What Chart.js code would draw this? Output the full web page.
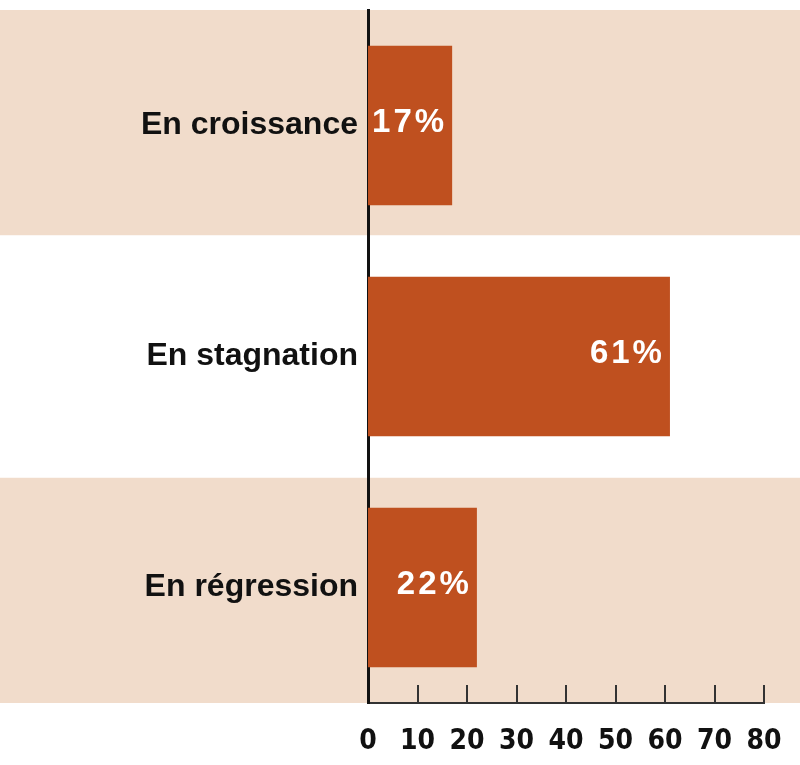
<!DOCTYPE html>
<html>
<head>
<meta charset="utf-8">
<script src="https://cdn.jsdelivr.net/npm/chart.js@4"></script>
<style>
  html, body { margin: 0; padding: 0; background: #fff; }
  #wrap { width: 800px; height: 765px; }
</style>
</head>
<body>
<div id="wrap"><canvas id="barchart"></canvas></div>
<script>
const categories = ['En croissance', 'En stagnation', 'En régression'];
const values = [17, 61, 22];
const valueLabels = ['17%', '61%', '22%'];
const tickStep = 10;
const axisMax = 80;

const bandColor = '#f1dccb';
const barColor = '#bf501f';

// beige bands behind rows 1 and 3, full canvas width
const bands = {
    id: 'bands',
    beforeDraw(chart) {
        const { ctx, chartArea, scales: { y } } = chart;
        const step = y.getPixelForValue(1) - y.getPixelForValue(0);
        const h = step * 0.475;
        ctx.save();
        ctx.fillStyle = '#fff';
        ctx.fillRect(0, 0, chart.width, chart.height);
        ctx.fillStyle = bandColor;
        categories.forEach((c, i) => {
            if (i % 2 === 1) return;
            const c0 = y.getPixelForValue(i);
            const top = i === 0 ? chartArea.top : c0 - h;
            const bottom = i === categories.length - 1 ? chartArea.bottom : c0 + h;
            ctx.fillRect(0, top, chart.width, bottom - top);
        });
        ctx.restore();
    }
};

// tick marks pointing up from the bottom axis + value labels in bars
const extras = {
    id: 'extras',
    afterDatasetsDraw(chart) {
        const { ctx, chartArea, scales: { x } } = chart;
        ctx.save();
        ctx.strokeStyle = '#333';
        ctx.lineWidth = 2;
        x.ticks.forEach(t => {
            if (t.value === 0) return;
            const px = Math.round(x.getPixelForValue(t.value));
            ctx.beginPath();
            ctx.moveTo(px, chartArea.bottom);
            ctx.lineTo(px, chartArea.bottom - 18);
            ctx.stroke();
        });
        const meta = chart.getDatasetMeta(0);
        ctx.fillStyle = '#fff';
        ctx.font = 'bold 33px "Liberation Sans", Arial, sans-serif';
        ctx.textAlign = 'right';
        ctx.textBaseline = 'middle';
        ctx.letterSpacing = '3px';
        meta.data.forEach((bar, i) => {
            ctx.fillText(valueLabels[i], bar.x - 5, bar.y - 3);
        });
        ctx.restore();
    }
};

const ctx = document.getElementById('barchart').getContext('2d');

const barchart = new Chart(ctx, {
    type: 'bar',
    data: {
        labels: categories,
        datasets: [{
            data: values,
            backgroundColor: barColor,
            borderWidth: 0,
            barPercentage: 0.69,
            categoryPercentage: 1
        }]
    },
    options: {
        indexAxis: 'y',
        responsive: true,
        maintainAspectRatio: false,
        animation: false,
        devicePixelRatio: 1,
        layout: { padding: { top: 10, right: 36, bottom: 0, left: 0 } },
        plugins: {
            legend: { display: false },
            tooltip: { enabled: false }
        },
        scales: {
            x: {
                min: 0,
                max: axisMax,
                afterFit: s => { s.height = 62; s.paddingRight = 0; },
                grid: { display: false, drawTicks: false },
                border: { display: true, color: '#333', width: 2 },
                ticks: {
                    stepSize: tickStep,
                    padding: 22,
                    color: '#111',
                    font: { family: '"Liberation Sans Narrow", "DejaVu Sans Condensed", sans-serif', size: 28, weight: 'bold' }
                }
            },
            y: {
                afterFit: s => { s.width = 368; s.paddingTop = 0; s.paddingBottom = 0; },
                grid: { display: false, drawTicks: false },
                border: { display: true, color: '#111', width: 3 },
                ticks: {
                    padding: 10,
                    color: '#111',
                    font: { family: '"Liberation Sans", Arial, sans-serif', size: 32, weight: 'bold' }
                }
            }
        }
    },
    plugins: [bands, extras]
});
</script>
</body>
</html>
